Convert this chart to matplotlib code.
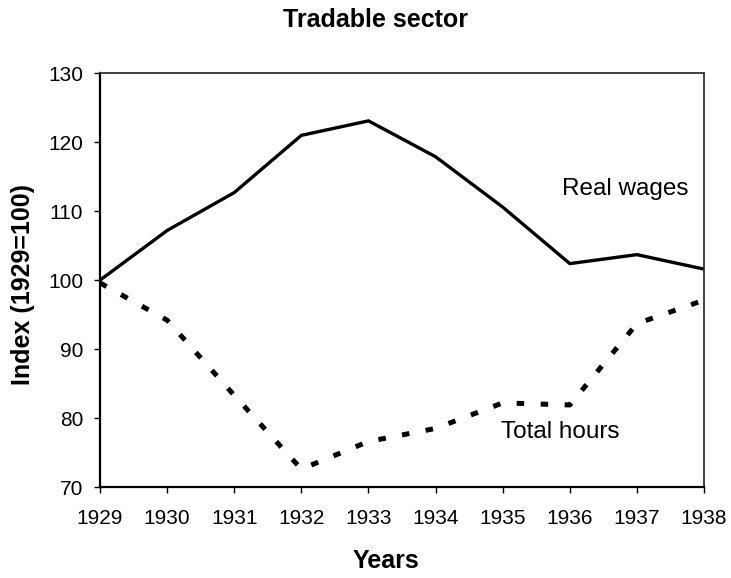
import matplotlib

matplotlib.use("Agg")
import matplotlib.pyplot as plt

plt.rcParams["font.family"] = ["Liberation Sans", "DejaVu Sans"]

YEARS = [1929, 1930, 1931, 1932, 1933, 1934, 1935, 1936, 1937, 1938]
REAL_WAGES = [100.0, 107.2, 112.7, 121.0, 123.1, 117.9, 110.6, 102.4, 103.7, 101.6]
TOTAL_HOURS = [99.6, 94.2, 83.3, 72.6, 76.6, 78.5, 82.2, 81.9, 93.7, 97.1]

fig = plt.figure(figsize=(7.31, 5.78), dpi=100)
ax = fig.add_axes([0.1368, 0.1574, 0.8263, 0.7158])

ax.plot(YEARS, REAL_WAGES, color="black", lw=2.4, solid_joinstyle="miter")
ax.plot(YEARS, TOTAL_HOURS, color="black", lw=3.6, linestyle=(0, (1.5, 3.3)))

ax.set_xlim(YEARS[0], YEARS[-1])
ax.set_ylim(70, 130)
ax.set_xticks(YEARS)
ax.set_yticks(range(70, 131, 10))
ax.tick_params(direction="out", length=4, width=1, labelsize=15, color="black")
ax.tick_params(axis="x", pad=12)
ax.tick_params(axis="y", pad=8)

for side in ("left", "bottom"):
    ax.spines[side].set_linewidth(1.6)
for side in ("top", "right"):
    ax.spines[side].set_color("#333333")
    ax.spines[side].set_linewidth(1.3)

ax.text(1936.83, 113.2, "Real wages", fontsize=17.5, ha="center", va="center")
ax.text(1935.86, 78.0, "Total hours", fontsize=17.5, ha="center", va="center")

fig.text(0.513, 0.954, "Tradable sector", fontsize=18, fontweight="bold",
         ha="center", va="baseline")
fig.text(0.528, 0.0173, "Years", fontsize=18, fontweight="bold",
         ha="center", va="baseline")
fig.text(0.032, 0.507, "Index (1929=100)", fontsize=18, fontweight="bold",
         rotation=90, ha="center", va="center")

fig.savefig("out.png", dpi=100)
